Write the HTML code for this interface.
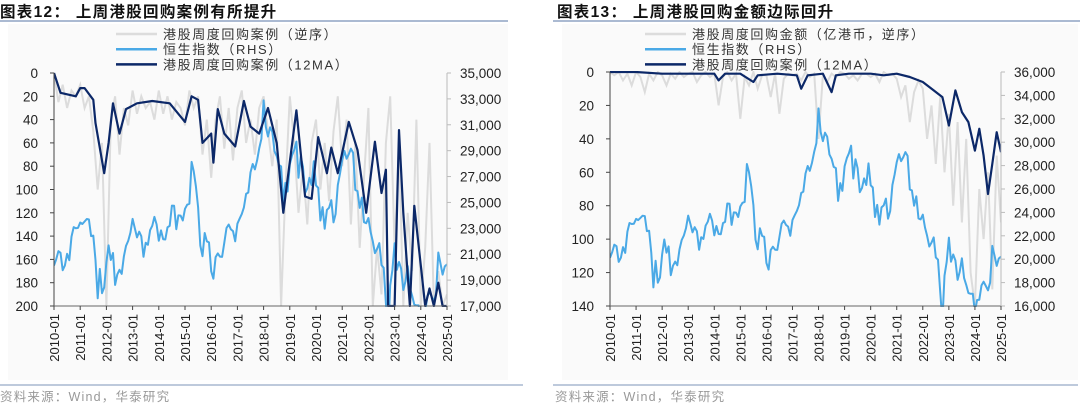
<!DOCTYPE html>
<html><head><meta charset="utf-8">
<style>
html,body{margin:0;padding:0;background:#fff;}
body{width:1080px;height:408px;overflow:hidden;font-family:"Liberation Sans","Noto Sans CJK SC",sans-serif;}
svg text{font-family:"Liberation Sans","Noto Sans CJK SC",sans-serif;}
</style></head>
<body>
<svg id="root" width="1080" height="408" viewBox="0 0 1080 408">
  <rect x="8" y="24" width="500" height="356" fill="#fafafa"/>
  <rect x="562" y="24" width="516" height="356" fill="#fafafa"/>
  <text x="0" y="17" font-size="15.5" font-weight="bold" letter-spacing="1.3" fill="#111">图表12：  上周港股回购案例有所提升</text>
  <line x1="0" y1="21" x2="508" y2="21" stroke="#8fa3c4" stroke-width="1.5"/>
  <text x="557" y="17" font-size="15.5" font-weight="bold" letter-spacing="1.3" fill="#111">图表13：  上周港股回购金额边际回升</text>
  <line x1="553" y1="21" x2="1080" y2="21" stroke="#8fa3c4" stroke-width="1.5"/>
  <line x1="0" y1="385" x2="523" y2="385" stroke="#a9b8d1" stroke-width="1.5"/>
  <line x1="553" y1="385" x2="1078" y2="385" stroke="#a9b8d1" stroke-width="1.5"/>
  <text x="0" y="401" font-size="12.5" letter-spacing="1.2" fill="#999">资料来源：Wind，华泰研究</text>
  <text x="555" y="401" font-size="12.5" letter-spacing="1.2" fill="#999">资料来源：Wind，华泰研究</text>
  <g id="left"></g>
  <g id="right"></g>
</svg>
<script>
// ---- Hang Seng index, monthly from 2010-01 ----
const hsiValues = [
20122,20608,21239,21108,19765,20129,21030,20537,22358,23096,23007,23035,
23447,23338,23528,23720,23684,22398,22440,20535,17592,19864,17989,18434,
20390,21680,20556,21094,18629,19441,19796,19482,20840,21641,22030,22657,
23729,23020,22300,22737,22392,20803,21883,21731,22859,23206,23881,23306,
22035,22837,22151,22134,23082,23191,24757,24742,22933,23998,23987,23605,
24507,24823,24901,28133,27424,26250,24636,21670,20846,22640,21996,21914,
19683,19112,20777,21067,20815,20794,21891,23023,23297,22935,22790,22001,
23361,23741,24112,24615,25661,25765,27324,27970,27554,28246,29177,29919,
32887,30845,30093,30808,30469,28955,28583,27889,27789,24980,26507,25846,
27942,28633,29051,29699,26901,28543,27778,25725,26092,26907,26346,28190,
26313,26130,23603,24644,22961,24427,24595,25177,23459,24107,26341,27231,
28284,28980,28378,28725,29151,28828,25961,25879,24576,25377,23475,23398,
23802,22713,21997,21089,21415,21860,20157,19954,17223,14687,18597,19781,
21842,19786,20400,19895,18234,18916,20079,18382,17810,17112,17043,17047,
15485,16511,16541,17763,18080,17719,17345,17989,21134,20317,19424,20060,
20225];

// ---- Left chart: weekly buyback cases (reversed) ----
const leftRawCases = [
0,25,10,30,15,20, 10,30,20,50,100,60, 200,40,20,70,30,45, 15,35,20,30,25,40,
15,35,20,40,25,30, 45,15,30,20,70,40, 90,40,20,65,30,75, 30,15,60,40,70,30,
20,50,80,40,200,100, 20,60,120,80,130,60, 40,100,60,110,50,20, 80,40,130,60,150,90,
30,200,150,190,60,20, 150,60,200,120,170,40, 200,150,60,200,170,200, 190];
const leftMaDates = ["2010-01","2010-04","2010-11","2011-01","2011-03","2011-07","2011-08","2011-12",
"2012-02","2012-04","2012-07","2012-10","2013-03","2013-10","2014-06","2015-01","2015-04","2015-07",
"2015-09","2016-01","2016-02","2016-04","2016-07","2016-12","2017-04","2017-07","2017-11","2018-03",
"2018-07","2018-10","2019-04","2019-08","2019-11","2020-02","2020-06","2020-08","2020-11","2021-04",
"2021-08","2021-12","2022-04","2022-07","2022-09","2022-10","2023-01","2023-03","2023-05","2023-08",
"2023-10","2024-03","2024-05","2024-07","2024-09","2024-11","2025-01"];
const leftMaValues = [0,17,20,13,13,23,43,86,60,26,52,31,26,24,26,42,20,23,60,52,77,31,52,63,24,46,52,30,
60,120,32,106,108,55,86,64,86,42,66,120,59,103,83,200,200,49,120,200,114,200,185,200,180,200,200];
const leftYTicks = [0,20,40,60,80,100,120,140,160,180,200];
const leftRTicks = [17000,19000,21000,23000,25000,27000,29000,31000,33000,35000];

// ---- Right chart: weekly buyback amount (reversed, 100m HKD) ----
const rightRawAmount = [
0,2,0,5,1,8, 0,3,12,1,5,0, 2,8,1,4,0,3, 1,0,6,2,0,3, 1,20,3,0,5,1, 28,3,8,0,10,2,
2,15,1,25,4,1, 2,1,5,0,3,1, 40,2,6,1,3,0, 1,4,2,5,1,1, 3,1,6,0,2,1, 4,15,8,30,12,5,
10,40,20,55,15,60, 25,80,30,90,40,120, 140,70,100,60,130,50, 90];
const rightMaDates = ["2010-01","2011-01","2012-01","2013-01","2014-01","2014-03","2014-06","2015-01",
"2015-07","2015-09","2016-06","2017-03","2017-05","2017-08","2018-03","2018-07","2018-09","2019-03",
"2020-01","2020-07","2021-01","2021-07","2022-01","2022-06","2022-10","2023-01","2023-04","2023-07",
"2023-10","2024-01","2024-03","2024-05","2024-07","2024-09","2024-11","2025-01"];
const rightMaValues = [0,0,1,1,1,5,1,1,6,2,1,2,10,2,1,12,2,1,1,2,1,3,6,11,15,32,11,24,30,47,34,50,73,55,36,48];
const rightYTicks = [0,20,40,60,80,100,120,140];
const rightRTicks = [16000,18000,20000,22000,24000,26000,28000,30000,32000,34000,36000];

const yearLabels = [];
for (let y = 2010; y <= 2025; y++) yearLabels.push(y + "-01");

const NS = "http://www.w3.org/2000/svg";
function mk(tag, attrs, parent){const e=document.createElementNS(NS,tag);for(const k in attrs)e.setAttribute(k,attrs[k]);parent.appendChild(e);return e;}
function dateToT(s){const p=s.split("-");return (+p[0]-2010)+(+p[1]-1)/12;}

function drawChart(g, cfg){
  const {x0,x1,y0,y1,lmax,rmin,rmax,raw,maDates,maVals,yTicks,rTicks,id} = cfg;
  const xT = t => x0 + t*(x1-x0)/15;
  const yL = v => y0 + v*(y1-y0)/lmax;
  const yR = v => y1 - (v-rmin)*(y1-y0)/(rmax-rmin);
  const defs = mk("defs",{},g);
  const cp = mk("clipPath",{id:"clip"+id},defs);
  mk("rect",{x:x0,y:y0-1,width:x1-x0,height:y1-y0+2},cp);

  let d="";
  raw.forEach((v,i)=>{d+=(i?"L":"M")+xT(i/6).toFixed(1)+","+yL(v).toFixed(1);});
  const rawPath = mk("path",{d:d,fill:"none",stroke:"#dcdcdc","stroke-width":2,"clip-path":"url(#clip"+id+")"},g);
  
  

  d="";
  hsiValues.forEach((v,i)=>{d+=(i?"L":"M")+xT(i/12).toFixed(1)+","+yR(v).toFixed(1);});
  const hsiPath = mk("path",{d:d,fill:"none",stroke:"#4aa9e6","stroke-width":2,"stroke-linejoin":"round","clip-path":"url(#clip"+id+")"},g);
  
  

  d="";
  maDates.forEach((s,i)=>{d+=(i?"L":"M")+xT(dateToT(s)).toFixed(1)+","+yL(maVals[i]).toFixed(1);});
  const maPath = mk("path",{d:d,fill:"none",stroke:"#0c2868","stroke-width":2.2,"stroke-linejoin":"round","clip-path":"url(#clip"+id+")"},g);
  
  

  const la = mk("line",{x1:x0,y1:y0,x2:x0,y2:y1,stroke:"#444","stroke-width":1},g);
  
  
  const xa = mk("line",{x1:x0,y1:y1,x2:x1,y2:y1,stroke:"#666","stroke-width":1},g);
  
  
  const ra = mk("line",{x1:x1,y1:y0,x2:x1,y2:y1,stroke:"#bbb","stroke-width":1},g);
  
  

  yTicks.forEach(v=>{
    const y=yL(v);
    mk("line",{x1:x0-4,y1:y,x2:x0,y2:y,stroke:"#444"},g);
    const t=mk("text",{x:x0-16,y:y+5,"font-size":13.5,"text-anchor":"end",fill:"#222"},g);
    t.textContent=v;
    
    
  });
  rTicks.forEach(v=>{
    const y=yR(v);
    mk("line",{x1:x1,y1:y,x2:x1+4,y2:y,stroke:"#bbb"},g);
    const t=mk("text",{x:x1+13,y:y+5,"font-size":13.5,fill:"#222"},g);
    t.textContent=v.toLocaleString("en-US");
    
    
  });
  yearLabels.forEach((s,i)=>{
    const x=xT(i);
    mk("line",{x1:x,y1:y1,x2:x,y2:y1+4,stroke:"#444"},g);
    const t=mk("text",{x:0,y:0,"font-size":13,"text-anchor":"end",fill:"#222",transform:"translate("+(x+5)+","+(y1+8)+") rotate(-90)"},g);
    t.textContent=s;
    
    
  });

  const items=[[cfg.leg1,"#dcdcdc"],["恒生指数（RHS）","#4aa9e6"],["港股周度回购案例（12MA）","#0c2868"]];
  items.forEach((it,i)=>{
    const y=34+i*15.2;
    const l=mk("line",{x1:cfg.legX,y1:y,x2:cfg.legX+41,y2:y,stroke:it[1],"stroke-width":2.5},g);
    
    
    const t=mk("text",{x:cfg.legX+47,y:y+5,"font-size":13,"letter-spacing":1.6,fill:"#333"},g);
    t.textContent=it[0];
    
    
  });
}

drawChart(document.getElementById("left"),{id:"L",x0:54,x1:447,y0:73,y1:306,lmax:200,rmin:17000,rmax:35000,
  raw:leftRawCases,maDates:leftMaDates,maVals:leftMaValues,yTicks:leftYTicks,rTicks:leftRTicks,
  legX:116,leg1:"港股周度回购案例（逆序）"});
drawChart(document.getElementById("right"),{id:"R",x0:610,x1:1001,y0:72,y1:306,lmax:140,rmin:16000,rmax:36000,
  raw:rightRawAmount,maDates:rightMaDates,maVals:rightMaValues,yTicks:rightYTicks,rTicks:rightRTicks,
  legX:645,leg1:"港股周度回购金额（亿港币，逆序）"});
</script>
</body></html>
